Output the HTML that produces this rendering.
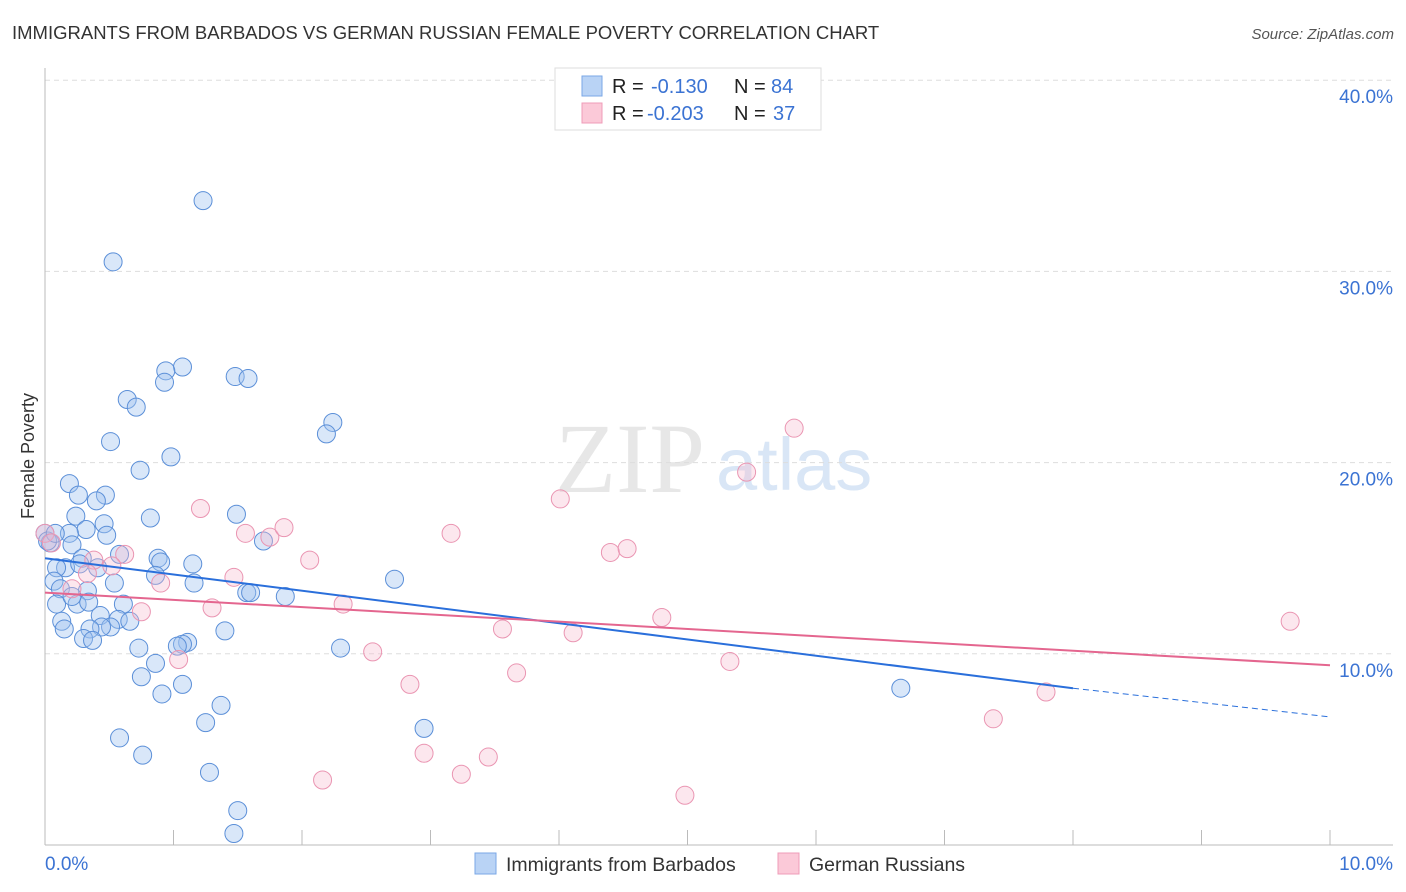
<!DOCTYPE html>
<html><head><meta charset="utf-8"><style>
body{margin:0;background:#fff;font-family:"Liberation Sans",sans-serif;}
#c{position:relative;width:1406px;height:892px;overflow:hidden;}
</style></head><body>
<div id="c">
<svg id="s" width="1406" height="892" xmlns="http://www.w3.org/2000/svg">
<text x="12" y="39" font-size="18.5" fill="#333">IMMIGRANTS FROM BARBADOS VS GERMAN RUSSIAN FEMALE POVERTY CORRELATION CHART</text>
<text x="1394" y="39" font-size="15" fill="#555" font-style="italic" text-anchor="end">Source: ZipAtlas.com</text>
<text x="555" y="492" font-size="100" fill="#ddd" font-family="Liberation Serif" opacity="0.7">ZIP</text>
<text x="716" y="490" font-size="74" fill="#c9dcf3" opacity="0.7">atlas</text>
<text x="34" y="456" font-size="18" fill="#333" text-anchor="middle" transform="rotate(-90 34 456)">Female Poverty</text>
<g id="grid"></g><g id="pts"></g><g id="lines"></g>
<g>
<rect x="555" y="68" width="266" height="62" fill="#fff" stroke="#ddd"/>
<rect x="582" y="76" width="20" height="20" fill="#b9d3f5" stroke="#7aa7e6"/>
<rect x="582" y="103" width="20" height="20" fill="#fbc9d8" stroke="#ef9cb8"/>
<text x="612" y="93" font-size="20" fill="#222">R = </text><text x="651" y="93" font-size="20" fill="#3b73d3">-0.130</text>
<text x="734" y="93" font-size="20" fill="#222">N = </text><text x="771" y="93" font-size="20" fill="#3b73d3">84</text>
<text x="612" y="120" font-size="20" fill="#222">R = </text><text x="647" y="120" font-size="20" fill="#3b73d3">-0.203</text>
<text x="734" y="120" font-size="20" fill="#222">N = </text><text x="773" y="120" font-size="20" fill="#3b73d3">37</text>
</g>
<g>
<rect x="475" y="853" width="21" height="21" fill="#b9d3f5" stroke="#7aa7e6"/>
<text x="506" y="871" font-size="19.5" fill="#333">Immigrants from Barbados</text>
<rect x="778" y="853" width="21" height="21" fill="#fbc9d8" stroke="#ef9cb8"/>
<text x="809" y="871" font-size="19.5" fill="#333">German Russians</text>
</g>
</svg>
</div>
<script>
const yTicks=[10,20,30,40];
const xTickLabels=["0.0%","10.0%"];
const blueX=[1.23,0.53,1.07,0.94,0.93,1.48,1.58,0.64,0.71,2.24,2.19,0.51,0.98,0.74,0.19,0.26,0.47,0.40,0.82,1.49,0.24,0.46,0.32,0.19,0.48,1.70,0.0,0.04,0.21,0.58,0.88,0.90,1.15,0.29,0.41,0.16,0.09,0.07,0.54,0.86,1.16,2.72,1.57,1.60,1.87,0.12,0.33,0.09,0.61,0.25,0.34,0.43,0.57,0.66,0.51,0.44,0.35,0.13,0.15,1.40,0.30,0.37,0.73,1.11,1.07,1.03,2.30,0.86,0.75,1.07,0.91,1.37,1.25,2.95,6.66,0.58,0.76,1.28,1.50,1.47,0.02,0.08,0.27,0.21];
const blueY=[33.7,30.5,25.0,24.8,24.2,24.5,24.4,23.3,22.9,22.1,21.5,21.1,20.3,19.6,18.9,18.3,18.3,18.0,17.1,17.3,17.2,16.8,16.5,16.3,16.2,15.9,16.3,15.8,15.7,15.2,15.0,14.8,14.7,15.0,14.5,14.5,14.5,13.8,13.7,14.1,13.7,13.9,13.2,13.2,13.0,13.4,13.3,12.6,12.6,12.6,12.7,12.0,11.8,11.7,11.4,11.4,11.3,11.7,11.3,11.2,10.8,10.7,10.3,10.6,10.5,10.4,10.3,9.5,8.8,8.4,7.9,7.3,6.4,6.1,8.2,5.6,4.7,3.8,1.8,0.6,15.9,16.3,14.7,13.0];
const pinkX=[0.0,0.05,1.21,1.56,1.75,1.86,0.62,0.52,0.38,0.90,1.47,2.06,1.30,0.75,2.32,3.16,4.01,4.40,4.53,5.46,5.83,3.56,4.11,4.80,5.33,3.67,2.55,2.84,1.04,2.95,3.24,3.45,2.16,4.98,7.38,7.79,9.69,0.21,0.33];
const pinkY=[16.3,15.8,17.6,16.3,16.1,16.6,15.2,14.6,14.9,13.7,14.0,14.9,12.4,12.2,12.6,16.3,18.1,15.3,15.5,19.5,21.8,11.3,11.1,11.9,9.6,9.0,10.1,8.4,9.7,4.8,3.7,4.6,3.4,2.6,6.6,8.0,11.7,13.4,14.2];
const blueLine=[15.0,8.2];
const blueDashEnd=6.7;
const pinkLine=[13.2,9.4];
const NS="http://www.w3.org/2000/svg";
const X=v=>45+v/10*1285, Y=v=>845-v*19.12;
function mk(tag,attrs,parent){const e=document.createElementNS(NS,tag);for(const k in attrs)e.setAttribute(k,attrs[k]);parent.appendChild(e);return e;}
const grid=document.getElementById('grid');
yTicks.forEach(t=>{
 const l=mk('line',{x1:45,x2:1393,y1:Y(t),y2:Y(t),stroke:'#ddd','stroke-dasharray':'5,4'},grid);
 
 
 const tx=mk('text',{x:1393,y:Y(t)+23,'font-size':19,fill:'#3b73d3','text-anchor':'end'},grid);
 tx.textContent=t.toFixed(1)+'%';
 
 
});
const ya=mk('line',{x1:45,x2:45,y1:68,y2:845,stroke:'#bbb'},grid);


const xa=mk('line',{x1:45,x2:1393,y1:845,y2:845,stroke:'#bbb'},grid);


for(let i=0;i<=10;i++){const t=mk('line',{x1:X(i),x2:X(i),y1:830,y2:845,stroke:'#bbb'},grid);
 
 }
[[0,'start',45],[10,'end',1393]].forEach((d,i)=>{const t=mk('text',{x:d[2],y:870,'font-size':19,fill:'#3b73d3','text-anchor':d[1]},grid);t.textContent=xTickLabels[i];
 
 });
const pts=document.getElementById('pts');
blueX.forEach((x,i)=>{const c=mk('circle',{cx:X(x),cy:Y(blueY[i]),r:9,fill:'rgba(160,196,240,0.4)',stroke:'#5b8fd8','stroke-width':1},pts);
 
 });
pinkX.forEach((x,i)=>{const c=mk('circle',{cx:X(x),cy:Y(pinkY[i]),r:9,fill:'rgba(246,186,206,0.35)',stroke:'#ea95b2','stroke-width':1},pts);
 
 });
const lines=document.getElementById('lines');
const bl=mk('line',{x1:X(0),y1:Y(blueLine[0]),x2:X(8),y2:Y(blueLine[1]),stroke:'#2a6fdb','stroke-width':2},lines);


const bd=mk('line',{x1:X(8),y1:Y(blueLine[1]),x2:X(10),y2:Y(blueDashEnd),stroke:'#2a6fdb','stroke-width':1,'stroke-dasharray':'6,4'},lines);


const pl=mk('line',{x1:X(0),y1:Y(pinkLine[0]),x2:X(10),y2:Y(pinkLine[1]),stroke:'#e4668f','stroke-width':2},lines);


</script>
</body></html>
